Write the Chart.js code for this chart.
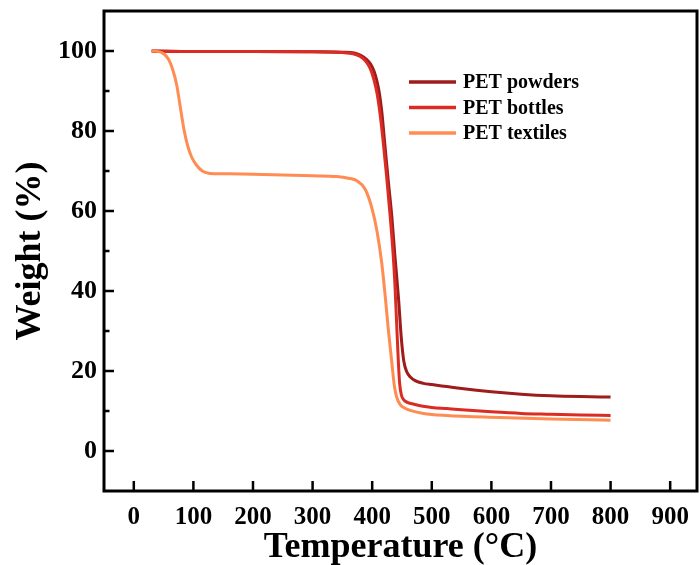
<!DOCTYPE html>
<html><head><meta charset="utf-8">
<script src="https://cdn.jsdelivr.net/npm/chart.js@4/dist/chart.umd.min.js"></script>
<style>html,body{margin:0;padding:0;background:#fff}#wrap{width:700px;height:565px;position:relative}</style>
</head><body><div id="wrap"><canvas id="c" width="700" height="565"></canvas></div>
<script>
const seriesNames = ['PET powders', 'PET bottles', 'PET textiles'];
const seriesColors = ['#9E1C1C', '#DA2C22', '#FF8C52'];

const powdersT = [30,100,200,300,350,370,380,390,397,403,408,412,416,421,427,433,438,444,449,453,458,464,472,486,500,525,550,600,650,700,750,800];
const powdersW = [100,99.9,99.9,99.8,99.7,99.5,99.0,98.0,96.8,95.0,92.5,89.5,85,77,67.5,58.5,49,38.5,28,22.5,19.8,18.5,17.6,16.9,16.6,16.1,15.6,14.8,14.2,13.8,13.6,13.5];

const bottlesT = [30,100,200,300,350,368,380,390,397,403,408,413,418,424,430,435,438,441,444,446,449,453,460,470,485,500,525,550,600,650,700,750,800];
const bottlesW = [100,99.9,99.9,99.8,99.6,99.3,98.6,97.3,95.5,92.8,89.5,84.5,78,69,59,49.5,42,32,22,17,14,12.8,12.1,11.7,11.2,10.9,10.6,10.3,9.8,9.4,9.2,9.0,8.9];

const textilesT = [30,40,50,58,65,72,78,84,90,97,105,115,128,150,200,250,300,340,360,375,388,399,408,416,422,427,433,437,441,447,455,465,486,525,614,700,800];
const textilesW = [100,99.9,99.3,98,95.5,91.5,86,80.5,76.5,73.5,71.5,70,69.4,69.3,69.2,69,68.8,68.6,68.2,67.5,65.5,61,55,47,38.5,30.5,22,16.5,13.5,11.6,10.7,10.1,9.4,8.9,8.4,8.0,7.7];

const xTickValues = [0,100,200,300,400,500,600,700,800,900];
const yTickValues = [0,20,40,60,80,100];
const yMinorValues = [10,30,50,70,90];
const xTitle = 'Temperature (°C)';
const yTitle = 'Weight (%)';

const FONT = '"Liberation Serif", "Times New Roman", serif';

function pts(T, W) { return T.map((t, i) => ({x: t, y: W[i]})); }

const seriesData = [pts(powdersT, powdersW), pts(bottlesT, bottlesW), pts(textilesT, textilesW)];

const datasets = seriesNames.map((name, i) => ({
  label: name,
  data: seriesData[i],
  borderColor: seriesColors[i],
  backgroundColor: seriesColors[i],
  borderWidth: 3,
  pointRadius: 0,
  fill: false,
  cubicInterpolationMode: 'monotone',
  order: 2 - i
}));

const framePlugin = {
  id: 'frame',
  afterDatasetsDraw(chart) {
    const ctx = chart.ctx;
    const a = chart.chartArea;
    const xs = chart.scales.x, ys = chart.scales.y;
    ctx.save();
    ctx.strokeStyle = '#000';
    ctx.lineWidth = 3;
    ctx.strokeRect(a.left, a.top, a.right - a.left, a.bottom - a.top);
    ctx.lineWidth = 2.5;
    ctx.beginPath();
    xTickValues.forEach(v => {
      const px = xs.getPixelForValue(v);
      ctx.moveTo(px, a.bottom); ctx.lineTo(px, a.bottom - 10);
    });
    yTickValues.forEach(v => {
      const py = ys.getPixelForValue(v);
      ctx.moveTo(a.left, py); ctx.lineTo(a.left + 10, py);
    });
    yMinorValues.forEach(v => {
      const py = ys.getPixelForValue(v);
      ctx.moveTo(a.left, py); ctx.lineTo(a.left + 5.5, py);
    });
    ctx.stroke();
    // legend
    const lx = a.left + 305, ly = a.top + 71, rowH = 25.5;
    chart.data.datasets.forEach((ds, i) => {
      const y = ly + i * rowH;
      ctx.strokeStyle = ds.borderColor;
      ctx.lineWidth = 3.5;
      ctx.beginPath();
      ctx.moveTo(lx, y); ctx.lineTo(lx + 47, y);
      ctx.stroke();
      ctx.fillStyle = '#000';
      ctx.font = 'bold 20px ' + FONT;
      ctx.textBaseline = 'middle';
      ctx.textAlign = 'left';
      ctx.fillText(ds.label, lx + 54, y + 1);
    });
    ctx.restore();
  }
};

new Chart(document.getElementById('c'), {
  type: 'line',
  data: { datasets },
  options: {
    responsive: false,
    animation: false,
    events: [],
    layout: { padding: { top: 11, right: 3, left: 0, bottom: 0 } },
    plugins: { legend: { display: false }, tooltip: { enabled: false } },
    scales: {
      x: {
        type: 'linear',
        min: -50, max: 945,
        afterBuildTicks: s => { s.ticks = xTickValues.map(v => ({value: v})); },
        afterFit: s => { s.height = 74; s.paddingLeft = 0; s.paddingRight = 0; },
        grid: { display: false, drawTicks: false },
        border: { display: false },
        ticks: { color: '#000', padding: 12, maxRotation: 0, autoSkip: false,
                 font: { family: FONT, size: 25, weight: 'bold' } },
        title: { display: true, text: xTitle, color: '#000', padding: { top: 0, bottom: -4 },
                 font: { family: FONT, size: 36, weight: 'bold' } }
      },
      y: {
        type: 'linear',
        min: -10, max: 110,
        afterBuildTicks: s => { s.ticks = yTickValues.map(v => ({value: v})); },
        afterFit: s => { s.width = 104; s.paddingTop = 0; s.paddingBottom = 0; },
        grid: { display: false, drawTicks: false },
        border: { display: false },
        ticks: { color: '#000', padding: 7, autoSkip: false,
                 font: { family: FONT, size: 26, weight: 'bold' } },
        title: { display: true, text: yTitle, color: '#000', padding: { top: 9, bottom: 0 },
                 font: { family: FONT, size: 36, weight: 'bold' } }
      }
    }
  },
  plugins: [framePlugin]
});
</script>
</body></html>
